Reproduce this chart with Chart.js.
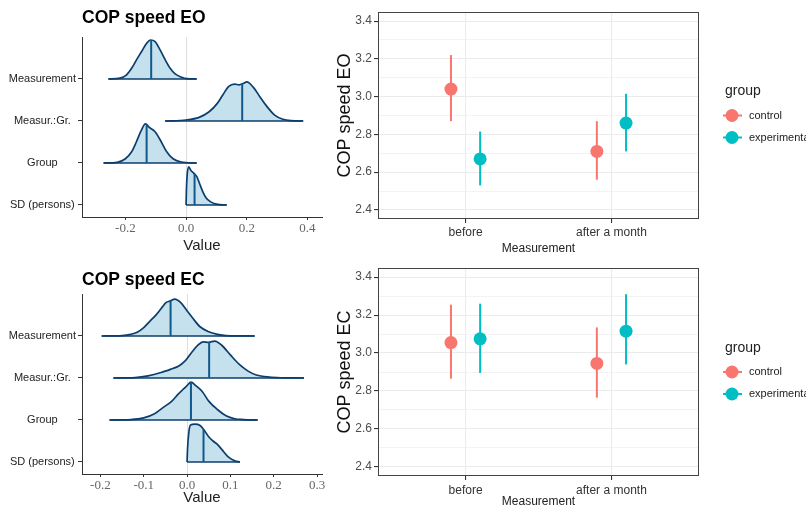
<!DOCTYPE html>
<html>
<head>
<meta charset="utf-8">
<script src="https://cdn.jsdelivr.net/npm/chart.js@4.4.1/dist/chart.umd.min.js"></script>
<style>
  html, body { margin: 0; padding: 0; background: #fff; width: 806px; height: 508px; overflow: hidden; }
  canvas { position: absolute; }
</style>
</head>
<body>
<canvas id="eoDens" style="left:0;top:0" width="330" height="255"></canvas>
<canvas id="ecDens" style="left:0;top:255px" width="330" height="253"></canvas>
<canvas id="eoMeans" style="left:330px;top:0" width="476" height="255"></canvas>
<canvas id="ecMeans" style="left:330px;top:255px" width="476" height="253"></canvas>
<script>
// rows of the posterior plots, bottom to top
const rowLabels = ['SD (persons)', 'Group', 'Measur.:Gr.', 'Measurement'];
const eoTicks = [-0.2, 0, 0.2, 0.4];
const ecTicks = [-0.2, -0.1, 0, 0.1, 0.2, 0.3];

// posterior densities: [value, height in row units]
const eoSD = [[0, 0], [0.001, 0.32], [0.004, 0.75], [0.009, 0.91], [0.016, 0.82], [0.025, 0.76], [0.035, 0.68], [0.045, 0.5], [0.055, 0.32], [0.065, 0.18], [0.08, 0.08], [0.1, 0.02], [0.134, 0]];
const eoGroup = [[-0.272, 0], [-0.227, 0.016], [-0.2, 0.1], [-0.18, 0.26], [-0.164, 0.5], [-0.148, 0.77], [-0.134, 0.93], [-0.12, 0.84], [-0.103, 0.75], [-0.086, 0.56], [-0.065, 0.28], [-0.043, 0.1], [-0.016, 0.024], [0.035, 0]];
const eoInter = [[-0.069, 0], [0, 0.024], [0.043, 0.087], [0.076, 0.22], [0.103, 0.42], [0.121, 0.62], [0.14, 0.82], [0.16, 0.88], [0.175, 0.86], [0.19, 0.9], [0.2, 0.93], [0.222, 0.8], [0.243, 0.58], [0.265, 0.36], [0.292, 0.14], [0.319, 0.04], [0.346, 0.008], [0.386, 0]];
const eoMeas = [[-0.256, 0], [-0.218, 0.02], [-0.196, 0.1], [-0.179, 0.26], [-0.163, 0.46], [-0.146, 0.66], [-0.13, 0.85], [-0.117, 0.929], [-0.102, 0.89], [-0.086, 0.7], [-0.069, 0.46], [-0.053, 0.26], [-0.036, 0.12], [-0.014, 0.04], [0.002, 0.008], [0.035, 0]];
const eoMedians = [0.028, -0.13, 0.185, -0.115];
const eoMedianH = [0.74, 0.9, 0.89, 0.925];

const ecSD = [[0, 0], [0.001, 0.29], [0.004, 0.7], [0.008, 0.88], [0.018, 0.9], [0.03, 0.87], [0.04, 0.75], [0.05, 0.6], [0.06, 0.5], [0.07, 0.42], [0.08, 0.3], [0.095, 0.12], [0.11, 0.03], [0.122, 0]];
const ecGroup = [[-0.179, 0], [-0.13, 0.01], [-0.1, 0.05], [-0.075, 0.15], [-0.055, 0.3], [-0.035, 0.45], [-0.02, 0.62], [-0.01, 0.72], [0, 0.82], [0.009, 0.9], [0.02, 0.82], [0.035, 0.68], [0.05, 0.45], [0.07, 0.25], [0.09, 0.1], [0.11, 0.03], [0.13, 0.01], [0.163, 0]];
const ecInter = [[-0.17, 0], [-0.12, 0.01], [-0.09, 0.05], [-0.06, 0.13], [-0.035, 0.22], [-0.02, 0.28], [-0.005, 0.4], [0.01, 0.6], [0.025, 0.78], [0.037, 0.86], [0.05, 0.85], [0.064, 0.88], [0.08, 0.78], [0.1, 0.55], [0.12, 0.33], [0.14, 0.17], [0.16, 0.07], [0.19, 0.02], [0.22, 0.005], [0.27, 0]];
const ecMeas = [[-0.197, 0], [-0.15, 0.01], [-0.13, 0.04], [-0.115, 0.09], [-0.1, 0.2], [-0.085, 0.36], [-0.07, 0.52], [-0.058, 0.68], [-0.048, 0.8], [-0.04, 0.83], [-0.028, 0.88], [-0.015, 0.8], [0, 0.6], [0.012, 0.44], [0.03, 0.22], [0.05, 0.1], [0.07, 0.04], [0.09, 0.01], [0.156, 0]];
const ecMedians = [0.038, 0.009, 0.051, -0.038];
const ecMedianH = [0.77, 0.9, 0.86, 0.84];

// estimated means with intervals
const measurements = ['before', 'after a month'];
const groups = ['control', 'experimental'];
const groupColors = ['#F8766D', '#00BFC4'];
const meanTicks = [2.4, 2.6, 2.8, 3.0, 3.2, 3.4];

const eoControl = [3.04, 2.71];
const eoControlLo = [2.87, 2.56];
const eoControlHi = [3.22, 2.87];
const eoExp = [2.67, 2.86];
const eoExpLo = [2.53, 2.71];
const eoExpHi = [2.815, 3.015];

const ecControl = [3.055, 2.945];
const ecControlLo = [2.865, 2.765];
const ecControlHi = [3.255, 3.135];
const ecExp = [3.075, 3.115];
const ecExpLo = [2.895, 2.94];
const ecExpHi = [3.26, 3.31];

Chart.defaults.font.family = '"Liberation Sans", Arial, sans-serif';
Chart.defaults.animation = false;

const lineCol = '#0c3e6d';
const medCol = '#10598c';
const fillCol = '#c5e1ee';

function densityChart(id, title, dens, medians, medH, ticks, xmin, xmax, titlePad, xHeight, valuePad) {
  const datasets = [];
  dens.forEach((d, i) => {
    const row = i + 1;
    datasets.push({
      data: [{ x: medians[i], y: row }, { x: medians[i], y: row + medH[i] }],
      borderColor: medCol, borderWidth: 2, pointRadius: 0, showLine: true
    });
    datasets.push({
      data: [{ x: d[0][0], y: row }, { x: d[d.length - 1][0], y: row }],
      borderColor: lineCol, borderWidth: 1.7, pointRadius: 0, showLine: true
    });
    datasets.push({
      data: d.map(p => ({ x: p[0], y: row + p[1] })),
      borderColor: lineCol, borderWidth: 1.7, backgroundColor: fillCol,
      fill: { value: row }, pointRadius: 0, showLine: true,
      cubicInterpolationMode: 'monotone'
    });
  });

  new Chart(document.getElementById(id), {
    type: 'scatter',
    data: { datasets },
    options: {
      responsive: false,
      devicePixelRatio: 1,
      layout: { padding: { left: 0, right: 8, top: 0, bottom: 0 } },
      plugins: {
        legend: { display: false },
        tooltip: { enabled: false },
        title: {
          display: true, text: title, align: 'start', fullSize: false,
          color: '#000', font: { size: 17.5, weight: 'bold' },
          padding: titlePad
        }
      },
      scales: {
        x: {
          type: 'linear', min: xmin, max: xmax,
          afterBuildTicks: s => { s.ticks = ticks.map(v => ({ value: v })); },
          afterFit: s => { s.height = xHeight; },
          ticks: {
            callback: v => v.toFixed(1), autoSkip: false, maxRotation: 0, padding: 1,
            color: '#666', font: { family: '"Liberation Serif", "DejaVu Serif", serif', size: 13 }
          },
          grid: {
            color: c => (c.tick && c.tick.value === 0 ? '#dedede' : 'rgba(0,0,0,0)'),
            tickColor: '#333', tickLength: 3
          },
          border: { color: '#333', width: 1 },
          title: { display: true, text: 'Value', color: '#222', font: { size: 15 }, padding: { top: 0, bottom: valuePad } }
        },
        y: {
          type: 'linear', min: 0.714, max: 5,
          afterBuildTicks: s => { s.ticks = rowLabels.map((l, i) => ({ value: i + 1 })); },
          afterFit: s => { s.width = 82; },
          ticks: {
            callback: v => rowLabels[v - 1], crossAlign: 'center', autoSkip: false,
            padding: 2, color: '#222', font: { size: 11 }
          },
          grid: { drawOnChartArea: false, tickColor: '#333', tickLength: 4 },
          border: { color: '#333', width: 1 }
        }
      }
    }
  });
}

const isMajor = v => meanTicks.some(t => Math.abs(t - v) < 1e-6);

const panelBorder = {
  id: 'panelBorder',
  afterDraw(chart) {
    const { ctx, chartArea: a } = chart;
    ctx.save();
    ctx.strokeStyle = '#444';
    ctx.lineWidth = 1;
    ctx.strokeRect(Math.round(a.left) + 0.5, Math.round(a.top) + 0.5, Math.round(a.right - a.left) - 1, Math.round(a.bottom - a.top) - 1);
    ctx.restore();
  }
};

const groupLegend = {
  id: 'groupLegend',
  afterDraw(chart) {
    const { ctx, chartArea: a } = chart;
    const midY = (a.top + a.bottom) / 2;
    ctx.save();
    ctx.textBaseline = 'middle';
    ctx.textAlign = 'left';
    ctx.fillStyle = '#222';
    ctx.font = '14px "Liberation Sans", Arial, sans-serif';
    ctx.fillText('group', a.right + 26, midY - 24);
    groups.forEach((g, i) => {
      const y = midY + i * 22;
      ctx.strokeStyle = groupColors[i];
      ctx.lineWidth = 2;
      ctx.beginPath();
      ctx.moveTo(a.right + 24, y);
      ctx.lineTo(a.right + 43, y);
      ctx.stroke();
      ctx.fillStyle = groupColors[i];
      ctx.beginPath();
      ctx.arc(a.right + 33, y, 6.5, 0, Math.PI * 2);
      ctx.fill();
      ctx.fillStyle = '#222';
      ctx.font = '11px "Liberation Sans", Arial, sans-serif';
      ctx.fillText(g, a.right + 50, y);
    });
    ctx.restore();
  }
};

function meansChart(id, yTitle, series, padTop, xHeight, tickPad) {
  const dodge = [-0.1, 0.1];
  const points = [];
  const bars = [];
  series.forEach((s, g) => {
    points.push({
      data: measurements.map((m, i) => ({ x: i + 1 + dodge[g], y: s.mean[i] })),
      backgroundColor: groupColors[g], borderWidth: 0, pointRadius: 6.5, showLine: false
    });
    measurements.forEach((m, i) => {
      bars.push({
        data: [{ x: i + 1 + dodge[g], y: s.lo[i] }, { x: i + 1 + dodge[g], y: s.hi[i] }],
        borderColor: groupColors[g], borderWidth: 2, pointRadius: 0, showLine: true
      });
    });
  });

  new Chart(document.getElementById(id), {
    type: 'scatter',
    data: { datasets: points.concat(bars) },
    options: {
      responsive: false,
      devicePixelRatio: 1,
      layout: { padding: { left: 0, right: 107, top: padTop, bottom: 0 } },
      plugins: { legend: { display: false }, tooltip: { enabled: false } },
      scales: {
        x: {
          type: 'linear', min: 0.4, max: 2.6,
          afterBuildTicks: s => { s.ticks = measurements.map((m, i) => ({ value: i + 1 })); },
          afterFit: s => { s.height = xHeight; },
          ticks: { callback: v => measurements[v - 1], autoSkip: false, maxRotation: 0, padding: tickPad, color: '#333', font: { size: 12 } },
          grid: { color: '#ebebeb', lineWidth: 1.1, tickColor: '#333', tickLength: 4 },
          border: { display: false },
          title: { display: true, text: 'Measurement', color: '#222', font: { size: 12, lineHeight: 1 }, padding: { top: 0, bottom: 0 } }
        },
        y: {
          type: 'linear', min: 2.352, max: 3.448,
          afterBuildTicks: s => {
            const t = [];
            meanTicks.forEach((v, i) => {
              t.push({ value: v });
              if (i < meanTicks.length - 1) t.push({ value: (v + meanTicks[i + 1]) / 2 });
            });
            s.ticks = t;
          },
          afterFit: s => { s.width = 48; },
          ticks: { callback: v => (isMajor(v) ? v.toFixed(1) : ''), autoSkip: false, padding: 2, color: '#4d4d4d', font: { size: 12 } },
          grid: {
            color: '#ebebeb',
            lineWidth: c => (isMajor(c.tick.value) ? 1.1 : 0.6),
            tickColor: c => (isMajor(c.tick.value) ? '#333' : 'rgba(0,0,0,0)'),
            tickLength: 4
          },
          border: { display: false },
          title: { display: true, text: yTitle, color: '#111', font: { size: 18 }, padding: { top: 4, bottom: 0 } }
        }
      }
    },
    plugins: [panelBorder, groupLegend]
  });
}

densityChart('eoDens', 'COP speed EO', [eoSD, eoGroup, eoInter, eoMeas], eoMedians, eoMedianH,
  eoTicks, -0.343, 0.448, { top: 7.5, bottom: 8.5 }, 38, 0);
densityChart('ecDens', 'COP speed EC', [ecSD, ecGroup, ecInter, ecMeas], ecMedians, ecMedianH,
  ecTicks, -0.2425, 0.3115, { top: 14.5, bottom: 3.5 }, 34, 1);

meansChart('eoMeans', 'COP speed EO', [
  { mean: eoControl, lo: eoControlLo, hi: eoControlHi },
  { mean: eoExp, lo: eoExpLo, hi: eoExpHi }
], 12, 36, 2);
meansChart('ecMeans', 'COP speed EC', [
  { mean: ecControl, lo: ecControlLo, hi: ecControlHi },
  { mean: ecExp, lo: ecExpLo, hi: ecExpHi }
], 13, 32, 3);
</script>
</body>
</html>
